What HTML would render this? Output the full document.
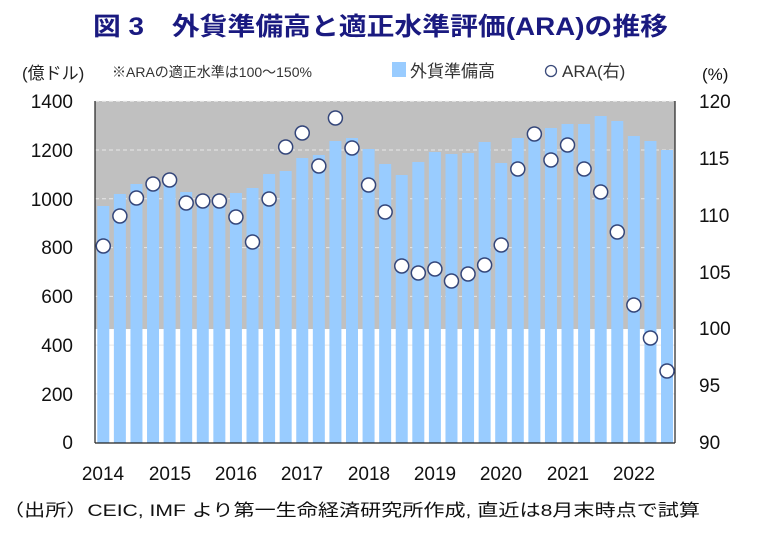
<!DOCTYPE html>
<html><head><meta charset="utf-8"><style>
html,body{margin:0;padding:0;background:#fff;}
svg{display:block;}
text{font-family:"Liberation Sans","Noto Sans CJK JP",sans-serif;}
</style></head><body>
<svg id="s" width="770" height="541" viewBox="0 0 770 541" xmlns="http://www.w3.org/2000/svg">
<text x="93" y="35" font-size="25" font-weight="bold" fill="#1a1a80" textLength="575" lengthAdjust="spacingAndGlyphs">図 3　外貨準備高と適正水準評価(ARA)の推移</text>
<text x="22" y="79" font-size="17" fill="#222">(億ドル)</text>
<text x="112" y="77" font-size="14" fill="#333">※ARAの適正水準は100～150%</text>
<rect x="392" y="62" width="14" height="15" fill="#99ccff"/>
<text x="410" y="77" font-size="17" fill="#333">外貨準備高</text>
<circle cx="551" cy="71" r="5.5" fill="#fff" stroke="#3a4a7a" stroke-width="1.3"/>
<text x="562" y="77" font-size="17" fill="#333">ARA(右)</text>
<text x="702" y="80" font-size="17" fill="#111">(%)</text>
<rect x="95" y="101" width="580" height="228" fill="#c0c0c0"/>
<g id="grid"></g>
<g id="bars"></g>
<line x1="95" y1="101" x2="95" y2="443" stroke="#222" stroke-width="1.2"/>
<line x1="675" y1="101" x2="675" y2="443" stroke="#222" stroke-width="1.2"/>
<line x1="95" y1="443" x2="675" y2="443" stroke="#222" stroke-width="1.2"/>
<g id="dots"></g>
<g font-size="19" fill="#111" text-anchor="end">
<text x="73" y="108">1400</text><text x="73" y="157">1200</text><text x="73" y="206">1000</text>
<text x="73" y="254">800</text><text x="73" y="303">600</text><text x="73" y="352">400</text>
<text x="73" y="401">200</text><text x="73" y="449">0</text>
</g>
<g font-size="19" fill="#111">
<text x="699" y="108">120</text><text x="699" y="165">115</text><text x="699" y="222">110</text>
<text x="699" y="279">105</text><text x="699" y="335">100</text><text x="699" y="392">95</text>
<text x="699" y="449">90</text>
</g>
<g font-size="19" fill="#111" text-anchor="middle">
<text x="103" y="480">2014</text><text x="170" y="480">2015</text><text x="236" y="480">2016</text>
<text x="302" y="480">2017</text><text x="369" y="480">2018</text><text x="435" y="480">2019</text>
<text x="501" y="480">2020</text><text x="568" y="480">2021</text><text x="634" y="480">2022</text>
</g>
<text x="3" y="516" font-size="17" fill="#111" textLength="697" lengthAdjust="spacingAndGlyphs">（出所）CEIC, IMF より第一生命経済研究所作成, 直近は8月末時点で試算</text>
</svg>
<script>
var NS="http://www.w3.org/2000/svg";
function el(p,t,a){var e=document.createElementNS(NS,t);for(var k in a)e.setAttribute(k,a[k]);document.getElementById(p).appendChild(e);}
for(var v=200;v<=1400;v+=200){var y=442.7-v*0.2439;
 el("grid","line",{x1:95,x2:675,y1:y,y2:y,stroke:y<329?"#e8e8e8":"#e6e6e6","stroke-width":1,"stroke-dasharray":y<329?"4,3":"none"});}
var tops=[206,194,184,180,178,192,195,195,193,188,174,171,158,155,141,138,149,164,175,162,152,154,153,142,163,138,133,128,124,124,116,121,136,141,150];
var dy=[246,216,198,184,180,203,201,201,217,242,199,147,133,166,118,148,185,212,266,273,269,281,274,265,245,169,134,160,145,169,192,232,305,338,371];
for(var i=0;i<35;i++){var cx=95+(i+0.5)*16.58;
 el("bars","rect",{x:cx-6,y:tops[i],width:12,height:442.7-tops[i],fill:"#99ccff"});
 el("dots","circle",{cx:cx,cy:dy[i],r:7,fill:"#fff",stroke:"#34467a","stroke-width":1.5});}
</script>
</body></html>
